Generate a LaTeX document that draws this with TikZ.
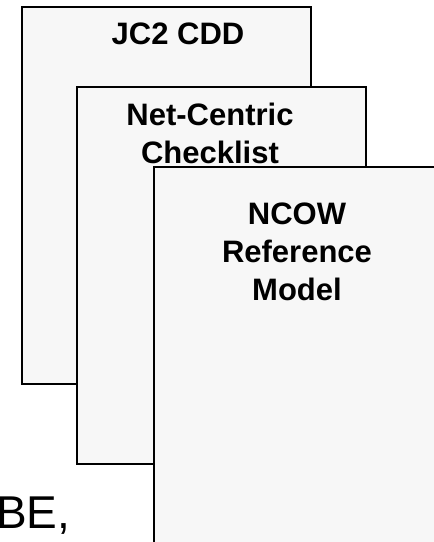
\documentclass[tikz,border=0pt]{standalone}
\usepackage{fontspec}
\setmainfont{Liberation Sans}
\usetikzlibrary{positioning}
\definecolor{cSheet}{RGB}{247,247,247}
\tikzset{
  docbox/.style={rectangle,draw=black,line width=1pt,fill=cSheet,
                 minimum width=144.5pt,minimum height=188.6pt,inner sep=0pt},
  doctitle/.style={align=center,inner sep=0pt,
                   font=\bfseries\fontsize{15.5}{19}\selectfont}
}

\begin{document}
\begin{tikzpicture}[x=0.5pt,y=-0.5pt]

  \useasboundingbox (0,0) rectangle (434,542);
  \clip (0,0) rectangle (434,542);

  % stacked documents, back to front
  \node[docbox] (cdd) at (166.6,195.1) {};
  \node[doctitle,anchor=base] (cddtitle) at (178,44) {JC2 CDD};

  \node[docbox] (checklist) at (221.4,275.4) {};
  \node[doctitle,anchor=base] (checktitle) at (210,163)
      {Net-Centric\\Checklist};

  \node[docbox] (ncow) at (298.5,355.2) {};
  \node[doctitle,anchor=base] (ncowtitle) at (297,300)
      {NCOW\\Reference\\Model};

  % cut-off slide text
  \node[anchor=base west,inner sep=0pt,font=\fontsize{23}{28}\selectfont]
      (slidetext) at (-4.3,528) {BE,};

\end{tikzpicture}
\end{document}
